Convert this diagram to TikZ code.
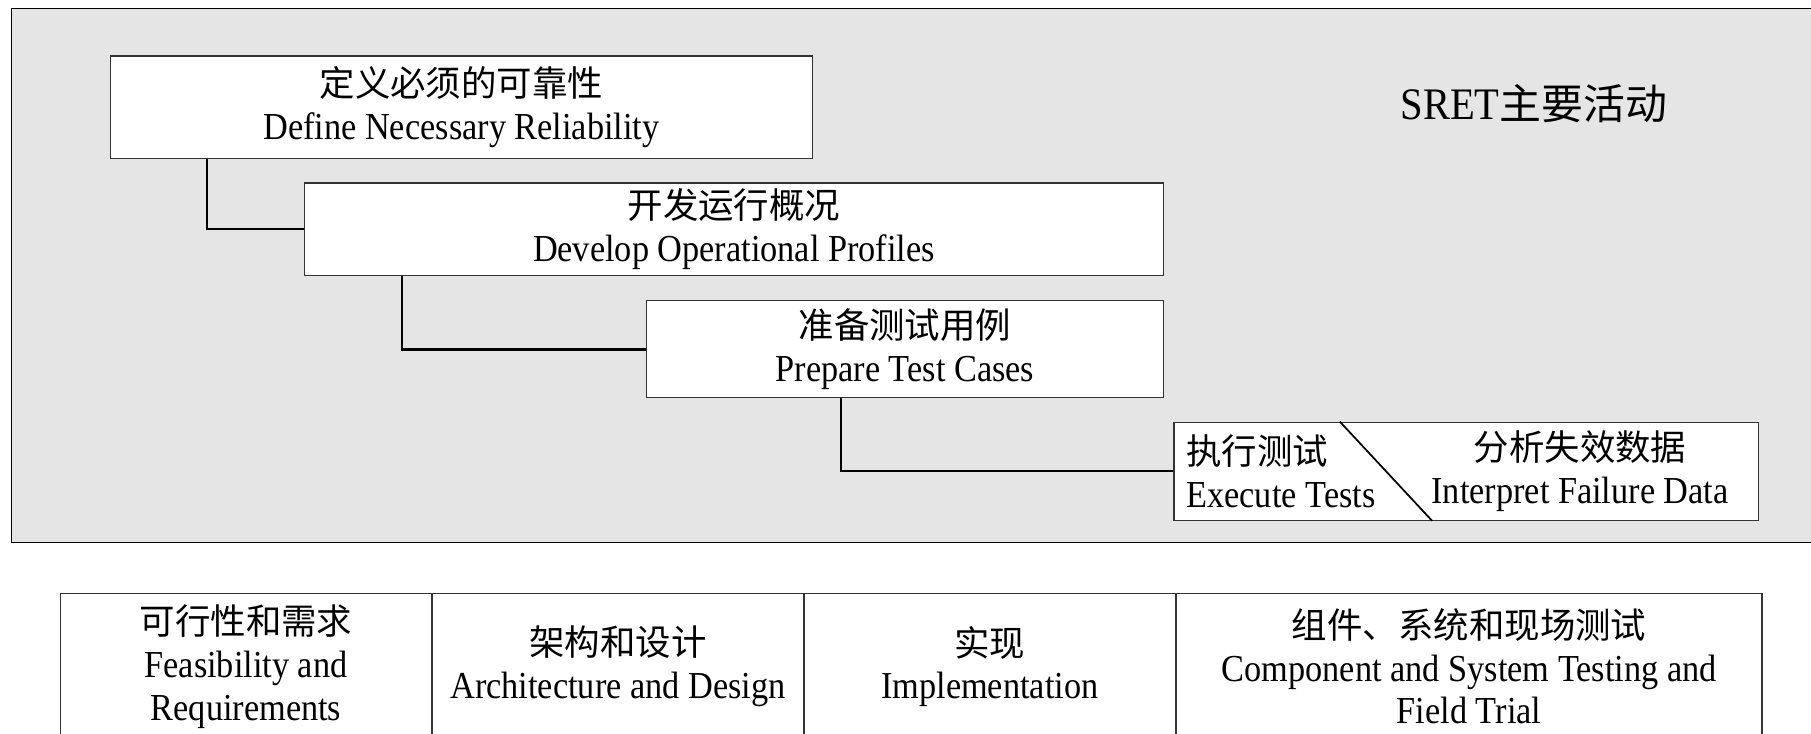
\documentclass[tikz,border=0pt]{standalone}
\usepackage{fontspec}
\setmainfont{Liberation Serif}[FakeStretch=0.9]
\newfontfamily\cjk[Scale=0.93]{Noto Sans CJK SC}
\begin{document}
\begin{tikzpicture}[x=1pt,y=-1pt,
  every node/.style={inner sep=0pt, font=\fontsize{33}{37}\selectfont},
  stage/.style={draw=black!80, line width=1pt, fill=white, anchor=north west, align=center},
  cell/.style={draw=black!80, line width=1pt, anchor=north west, align=center, minimum height=127pt},
  link/.style={draw=black, line width=2pt}]
\clip (0,0) rectangle (1568,635);
\fill[white] (0,0) rectangle (1568,635);

% shaded panel of SRET activities
\draw[fill=black!10, line width=1pt] (10,7) rectangle (1590,470);
\node (title) at (1328,90) {\fontsize{39}{44}\selectfont SRET{\cjk 主要活动}};

% activity boxes, stepped
\node[stage, minimum width=608pt, minimum height=89pt] (b1) at (95,48)
  {{\cjk 定义必须的可靠性}\\Define Necessary Reliability};
\node[stage, minimum width=744pt, minimum height=80pt] (b2) at (263,158)
  {{\cjk 开发运行概况}\\Develop Operational Profiles};
\node[stage, minimum width=448pt, minimum height=84pt] (b3) at (559,260)
  {{\cjk 准备测试用例}\\Prepare Test Cases};
\node[stage, minimum width=506pt, minimum height=85pt] (b4) at (1016,365) {};
\node[anchor=west, align=left] (exec) at ([xshift=11pt]b4.west)
  {{\cjk 执行测试}\\Execute Tests};
\node[align=center] (interp) at ([xshift=352pt]b4.west)
  {{\cjk 分析失效数据}\\Interpret Failure Data};
\draw[line width=1.5pt] ([xshift=144pt]b4.north west) -- ([xshift=224pt]b4.south west);

% connectors between the steps
\draw[link] ([xshift=84pt]b1.south west) |- (b2.west);
\draw[link] ([xshift=85pt]b2.south west) |- (b3.west);
\draw[link] ([xshift=169pt]b3.south west) |- (b4.west);

% life-cycle phases
\node[cell, minimum width=321pt] (p1) at (52,513)
  {{\cjk 可行性和需求}\\Feasibility and\\Requirements};
\node[cell, minimum width=321pt] (p2) at (p1.north east)
  {{\cjk 架构和设计}\\Architecture and Design};
\node[cell, minimum width=321pt] (p3) at (p2.north east)
  {{\cjk 实现}\\Implementation};
\node[cell, minimum width=507pt] (p4) at (p3.north east)
  {{\cjk 组件、系统和现场测试}\\Component and System Testing and\\Field Trial};
\end{tikzpicture}
\end{document}
